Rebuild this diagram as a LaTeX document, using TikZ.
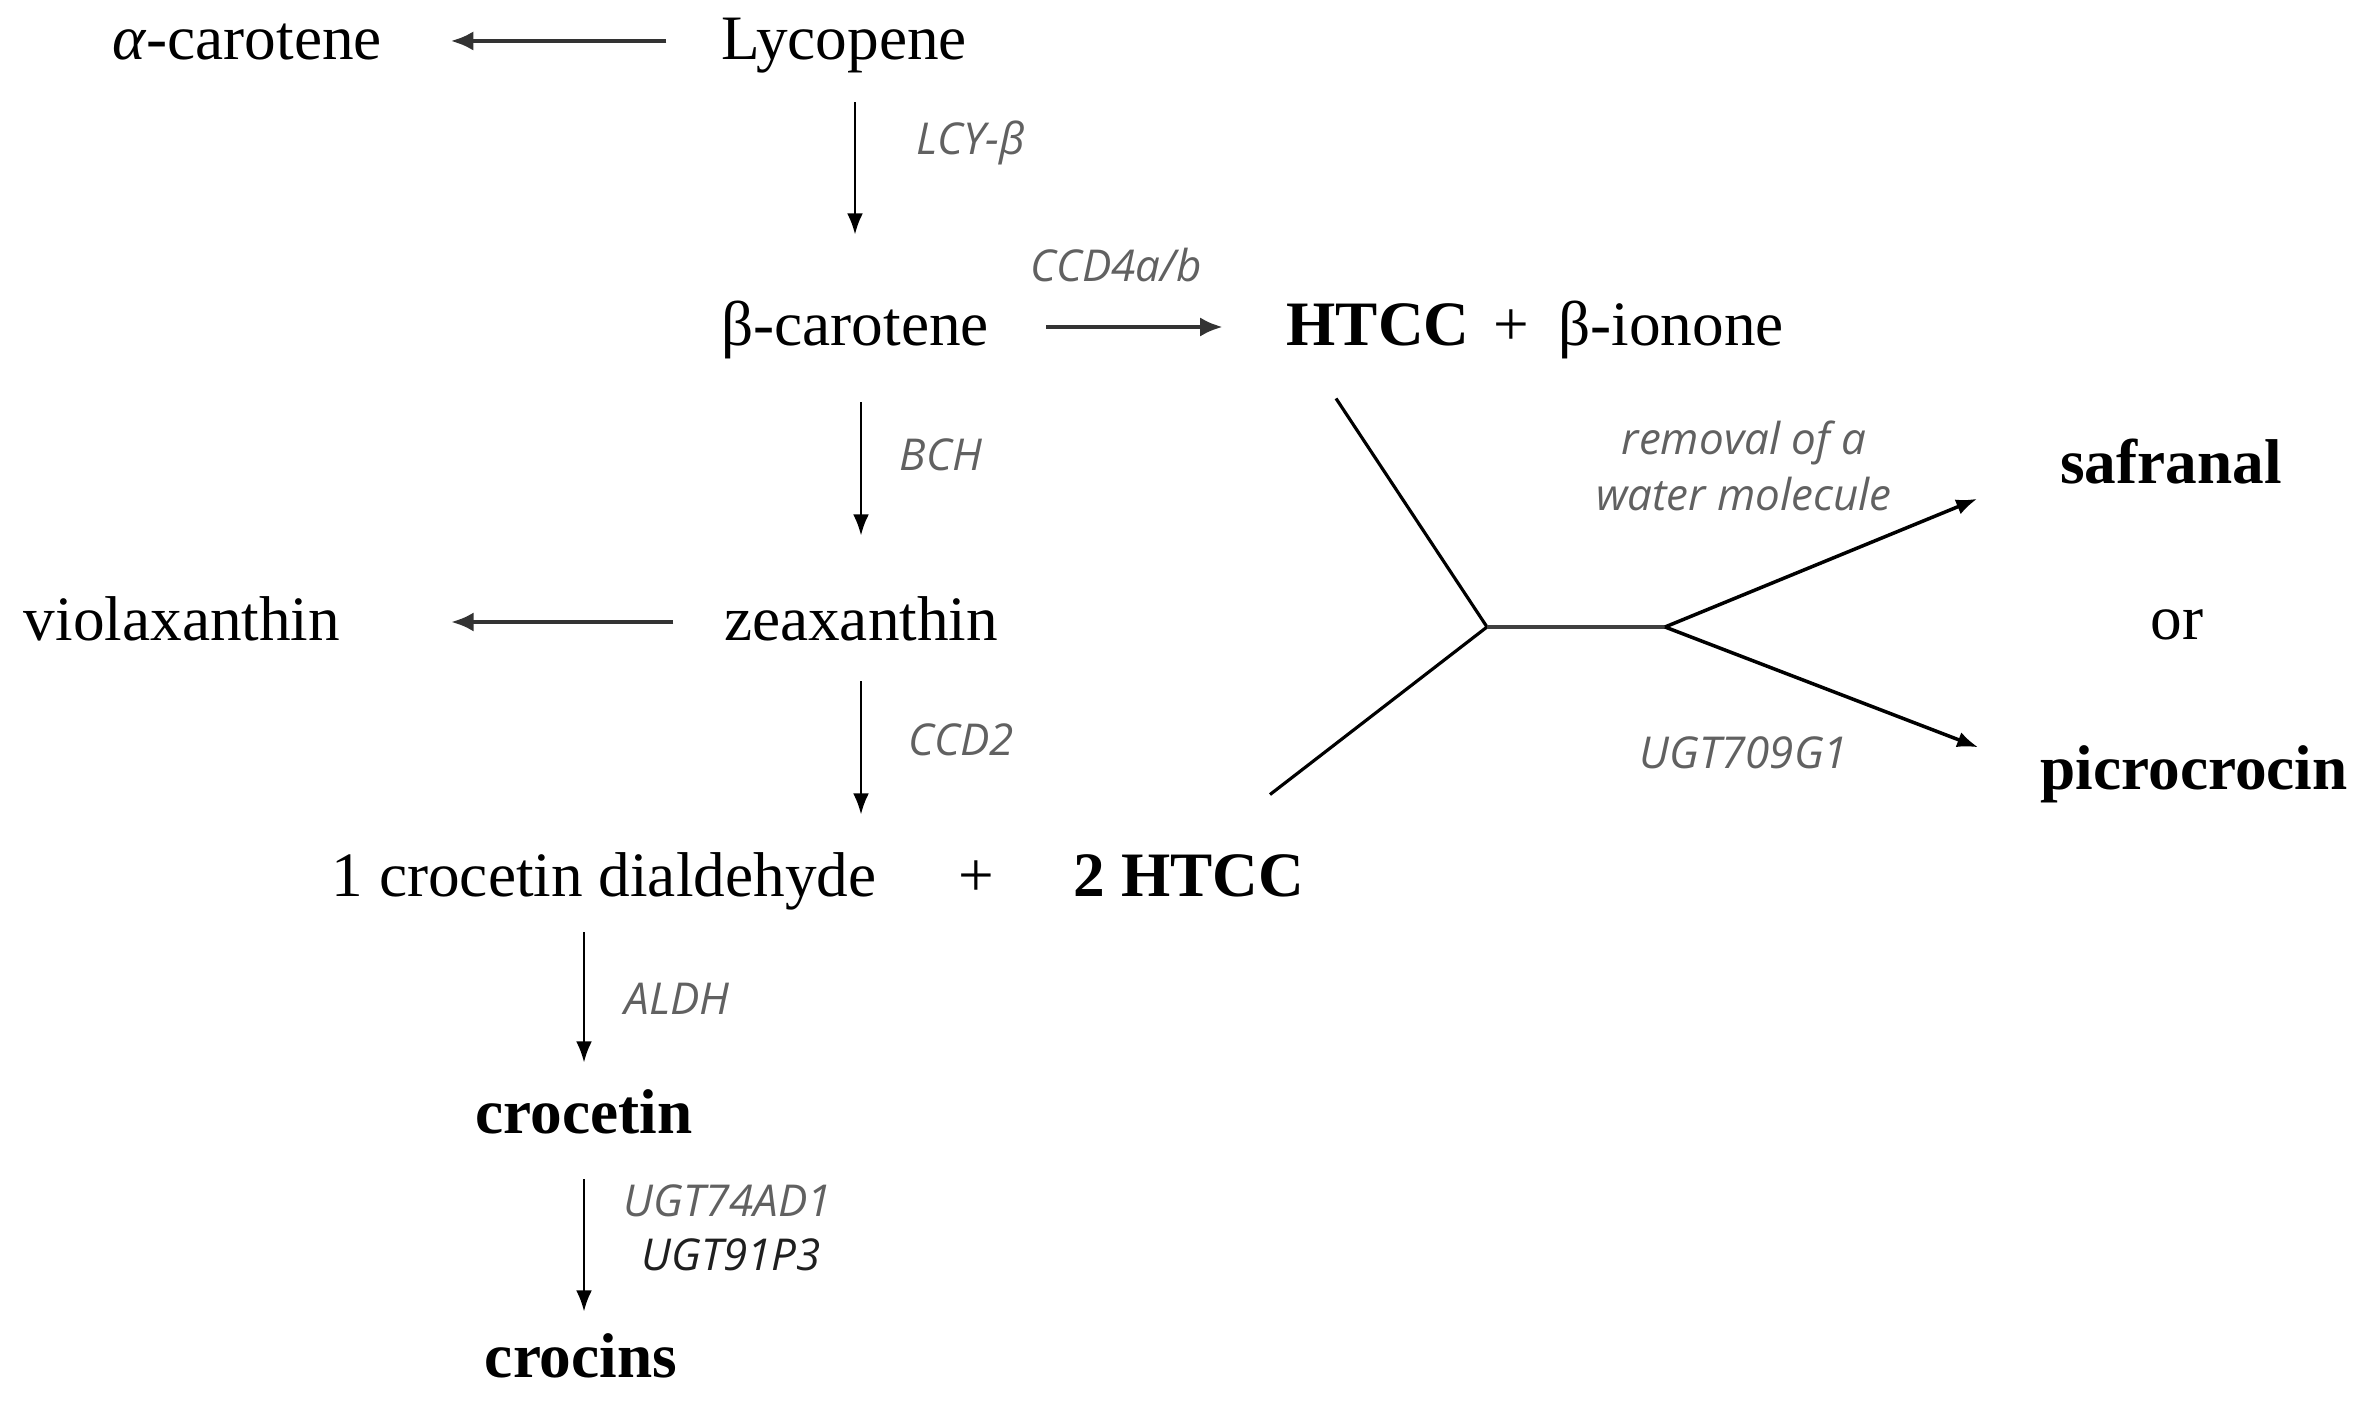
\documentclass[tikz,border=0pt]{standalone}
\usepackage{fontspec}
\setmainfont{Liberation Serif}
\newfontfamily\enzfont{Open Sans}
\usetikzlibrary{arrows.meta, positioning}

\begin{document}
\begin{tikzpicture}[
    chem/.style={inner sep=0pt, font=\fontsize{18}{20}\selectfont, text height=14pt, text depth=3.5pt},
    chemb/.style={chem, font=\fontsize{18}{20}\selectfont\bfseries},
    enz/.style={inner sep=0pt, font=\enzfont\fontsize{12.5}{16}\selectfont\itshape, text=black!62, align=center},
    arrow/.style={-{Latex[length=6pt,width=4.5pt]}, line width=0.7pt},
    harrow/.style={-{Latex[length=6.5pt,width=5.5pt]}, line width=1.4pt, draw=black!80},
    branch/.style={line width=0.9pt}
]
    \useasboundingbox (0,0) rectangle (23.62,-14.07);

    \node[chem] (alpha) at (2.47,-0.41) {\textit{α}-carotene};
    \node[chem] (lyco) at (8.44,-0.41) {Lycopene};
    \node[chem] (bcar) at (8.55,-3.27) {β-carotene};
    \node[chemb] (htcc) at (13.78,-3.27) {HTCC};
    \node[chem] (plus1) at (15.11,-3.27) {+};
    \node[chem] (iono) at (16.71,-3.27) {β-ionone};
    \node[chem] (viol) at (1.82,-6.22) {violaxanthin};
    \node[chem] (zea) at (8.61,-6.22) {zeaxanthin};
    \node[chem] (cd) at (6.04,-8.78) {1 crocetin dialdehyde};
    \node[chem] (plus2) at (9.76,-8.78) {+};
    \node[chemb] (htcc2) at (11.89,-8.78) {2 HTCC};
    \node[chemb] (croc) at (5.84,-11.15) {crocetin};
    \node[chemb] (crocins) at (5.81,-13.59) {crocins};
    \node[chemb] (saf) at (21.71,-4.65) {safranal};
    \node[chem] (or) at (21.77,-6.21) {or};
    \node[chemb] (pic) at (21.94,-7.71) {picrocrocin};

    \node[enz] (lcy) at (9.71,-1.43) {LCY-β};
    \node[enz] (ccd4) at (11.16,-2.65) {CCD4a/b};
    \node[enz] (bch) at (9.41,-4.55) {BCH};
    \node[enz] (ccd2) at (9.61,-7.40) {CCD2};
    \node[enz] (aldh) at (6.77,-9.99) {ALDH};
    \node[enz] (ugt1) at (7.28,-12.01) {UGT74AD1};
    \node[enz, text=black!88] (ugt2) at (7.31,-12.55) {UGT91P3};
    \node[enz] (rem) at (17.44,-4.66) {removal of a\\water molecule};
    \node[enz] (ugt709) at (17.44,-7.53) {UGT709G1};

    \coordinate (j1) at (14.87,-6.27);
    \coordinate (j2) at (16.65,-6.27);

    \draw[harrow, shorten <=0.54cm, shorten >=0.68cm] (lyco.west) -- (alpha.east);
    \draw[arrow, shorten <=0.3cm, shorten >=0.61cm] (lyco.south -| bcar.north) -- (bcar.north);
    \draw[harrow, shorten <=0.57cm, shorten >=0.63cm] (bcar.east) -- (htcc.west);
    \draw[arrow, shorten <=0.44cm, shorten >=0.55cm] (bcar.south -| zea.north) -- (zea.north);
    \draw[harrow, shorten <=0.5cm, shorten >=1.1cm] (zea.west) -- (viol.east);
    \draw[arrow, shorten <=0.28cm, shorten >=0.32cm] (zea.south) -- (zea.south |- cd.north);
    \draw[arrow, shorten <=0.23cm, shorten >=0.21cm] (cd.south -| croc.north) -- (croc.north);
    \draw[arrow, shorten <=0.33cm, shorten >=0.16cm] (croc.south) -- (croc.south |- crocins.north);

    \draw[branch] ([shift={(-0.42,-0.40)}]htcc.south) -- (j1) -- ([shift={(0.81,0.52)}]htcc2.north);
    \draw[branch, line width=1.4pt, draw=black!75] (j1) -- (j2);
    \draw[arrow, line width=1pt, shorten >=0.89cm] (j2) -- (saf.west);
    \draw[arrow, line width=1pt, shorten >=0.66cm] (j2) -- (pic.west);
\end{tikzpicture}
\end{document}
